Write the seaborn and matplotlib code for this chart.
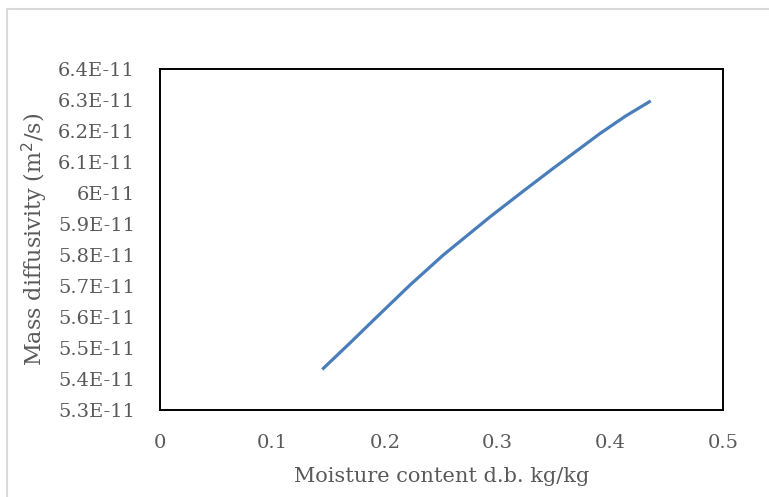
import matplotlib
matplotlib.use("Agg")
import matplotlib.pyplot as plt
import seaborn as sns
import pandas as pd
from matplotlib.patches import Rectangle

moisture = [0.1441, 0.1687, 0.1925, 0.2220, 0.2516, 0.2931, 0.3226, 0.3479, 0.3908, 0.4130, 0.4358]
diffusivity = [5.431e-11, 5.516e-11, 5.600e-11, 5.703e-11, 5.800e-11, 5.923e-11, 6.006e-11, 6.076e-11,
               6.192e-11, 6.247e-11, 6.297e-11]
x_ticks = [0, 0.1, 0.2, 0.3, 0.4, 0.5]
x_labels = ["0", "0.1", "0.2", "0.3", "0.4", "0.5"]
y_ticks = [5.3e-11, 5.4e-11, 5.5e-11, 5.6e-11, 5.7e-11, 5.8e-11, 5.9e-11, 6.0e-11, 6.1e-11, 6.2e-11, 6.3e-11, 6.4e-11]
y_labels = ["5.3E-11", "5.4E-11", "5.5E-11", "5.6E-11", "5.7E-11", "5.8E-11", "5.9E-11", "6E-11", "6.1E-11", "6.2E-11", "6.3E-11", "6.4E-11"]

df = pd.DataFrame({"x": moisture, "y": diffusivity})

sns.set_style("white")
plt.rcParams["font.family"] = ["DejaVu Serif"]

W, H = 769, 497
fig = plt.figure(figsize=(W / 100, H / 100), dpi=100)
fig.patch.set_facecolor("white")
# light gray chart border (top and left visible)
fig.patches.append(Rectangle((7 / W, -0.1), 1.2, (H - 9) / H + 0.1, transform=fig.transFigure,
                             fill=False, edgecolor="#d9d9d9", linewidth=1.5))

ax = fig.add_axes([160 / W, (H - 410) / H, (723 - 160) / W, (410 - 69) / H])
sns.lineplot(data=df, x="x", y="y", ax=ax, color="#4a7ebb", linewidth=2.3, sort=False,
             solid_joinstyle="round", solid_capstyle="butt")

ax.set_xlim(0, 0.5)
ax.set_ylim(5.3e-11, 6.4e-11)
ax.set_xticks(x_ticks)
ax.set_xticklabels(x_labels)
ax.set_yticks(y_ticks)
ax.set_yticklabels(y_labels)
ax.tick_params(axis="both", length=0, labelsize=14, colors="#595959")
ax.tick_params(axis="x", pad=17)
ax.tick_params(axis="y", pad=18)
for s in ax.spines.values():
    s.set_visible(True)
    s.set_color("black")
    s.set_linewidth(1.4)
ax.grid(False)

ax.set_xlabel("Moisture content d.b. kg/kg", fontsize=15, color="#595959", labelpad=11)
ax.set_ylabel("Mass diffusivity (m$^2$/s)", fontsize=16, color="#595959", labelpad=6)

fig.savefig("out.png", dpi=100)
